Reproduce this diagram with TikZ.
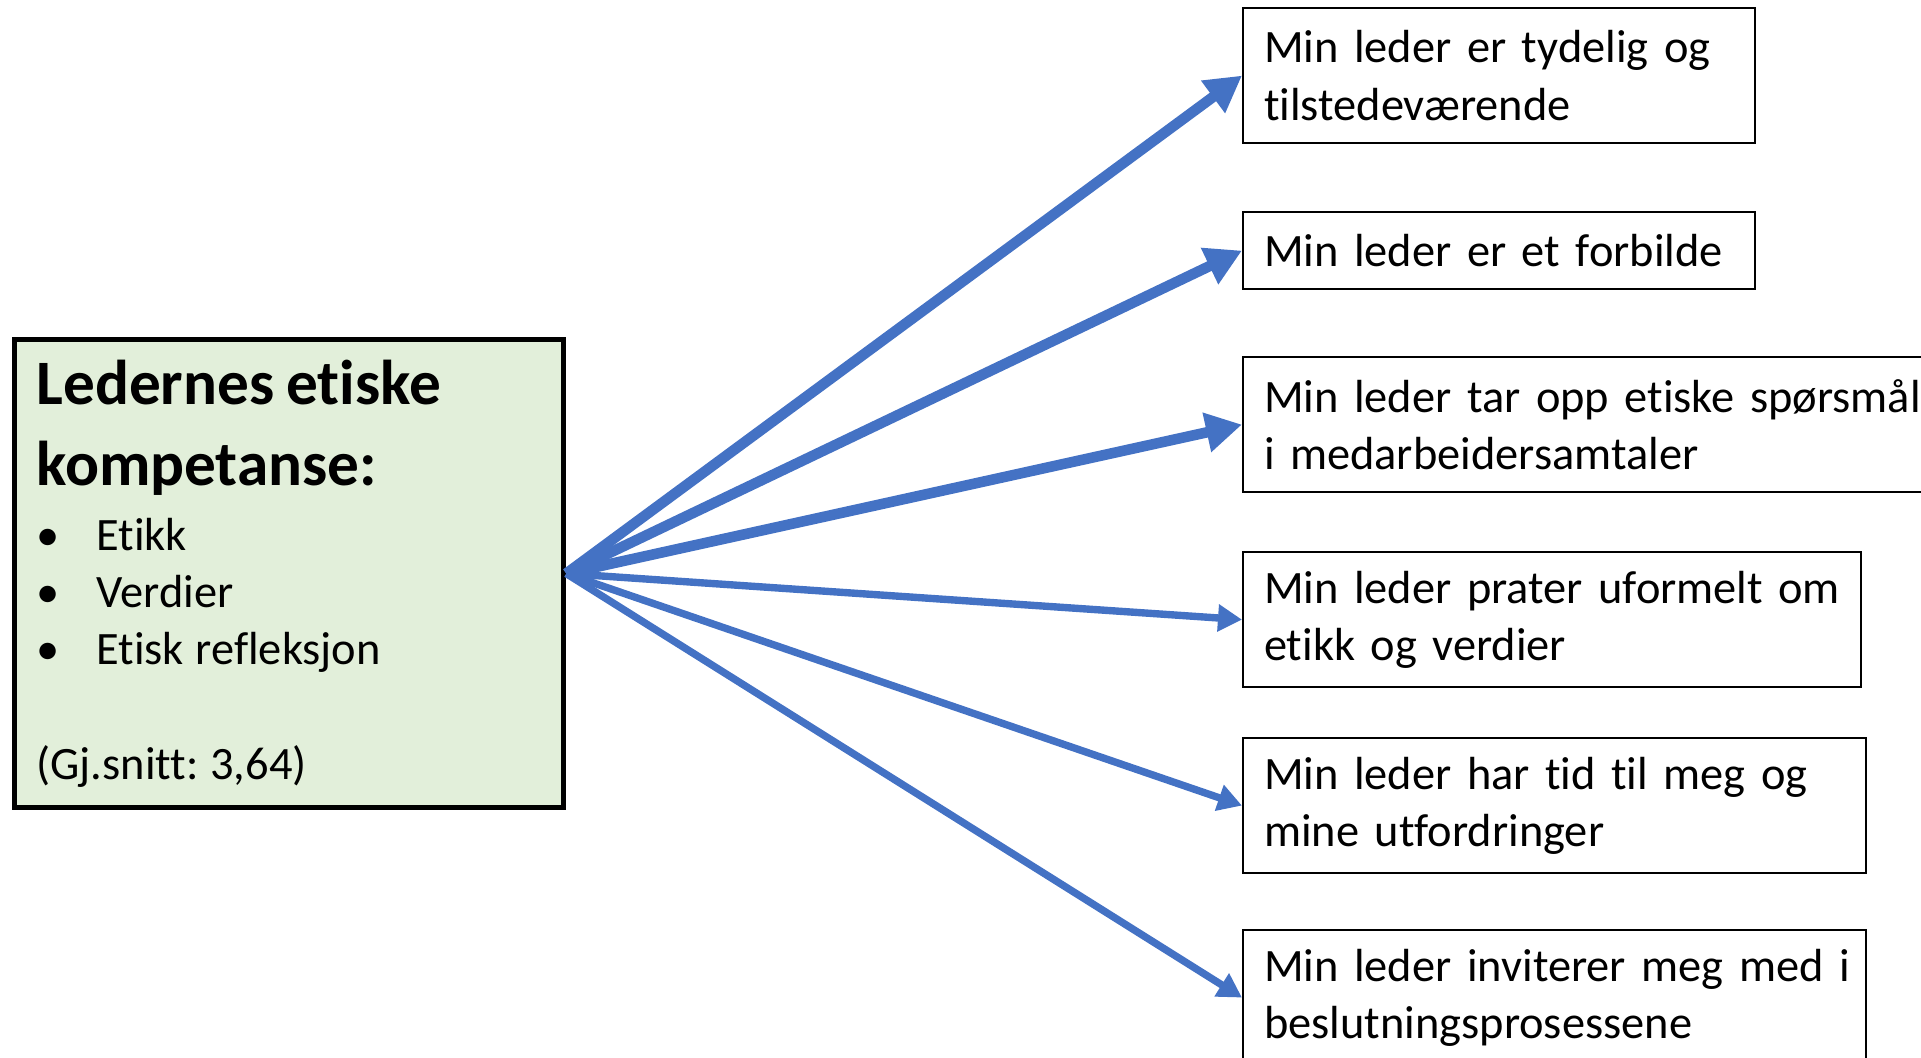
\documentclass[tikz,border=0pt]{standalone}
\usepackage{fontspec}
\setmainfont{Carlito}[Ligatures=NoCommon,WordSpace={0.9,0.5,0.3}]
\frenchspacing
\usetikzlibrary{arrows.meta}
\usetikzlibrary{positioning}
\definecolor{pilblaa}{HTML}{4472C4}
\definecolor{lysgroenn}{HTML}{E2EFDA}

\tikzset{
  maalboks/.style={draw=black,line width=0.6pt,anchor=north west,align=left,
    inner xsep=0.21cm,inner ysep=0pt,font=\fontsize{13.2}{16.3}\selectfont},
  tykkpil/.style={draw=pilblaa,line width=3pt,-{Triangle[length=0.36cm,width=0.38cm]}},
  tynnpil/.style={draw=pilblaa,line width=2.1pt,-{Triangle[length=0.24cm,width=0.26cm]}}
}

\begin{document}
\begin{tikzpicture}[x=0.01cm,y=-0.01cm]
\useasboundingbox (0,0) rectangle (1921,1058);

\node[draw=black,line width=1.4pt,fill=lysgroenn,anchor=north west,align=left,
  minimum width=5.49cm,minimum height=4.68cm,inner xsep=0.22cm,text width=5.05cm] (ledere) at (12,337) {%
{\fontsize{18}{23.3}\selectfont\bfseries Ledernes etiske\\kompetanse:\par}
{\fontsize{13.2}{16.3}\selectfont\vspace{2pt}%
\makebox[0.6cm][l]{\textbullet}Etikk\\
\makebox[0.6cm][l]{\textbullet}Verdier\\
\makebox[0.6cm][l]{\textbullet}Etisk refleksjon\\[16.3pt]
(Gj.snitt: 3,64)\par}};

\node[maalboks,minimum height=1.35cm,text width=4.70cm] (tydelig) at (1242,7) {\mbox{Min leder er tydelig og}\\tilstedeværende};
\node[maalboks,minimum height=0.77cm,text width=4.70cm] (forbilde) at (1242,211) {\mbox{Min leder er et forbilde}};
\node[maalboks,minimum height=1.35cm,text width=6.78cm] (spoersmaal) at (1242,356) {\mbox{Min leder tar opp etiske spørsmål}\\i medarbeidersamtaler};
\node[maalboks,minimum height=1.35cm,text width=5.76cm] (uformelt) at (1242,551) {\mbox{Min leder prater uformelt om}\\etikk og verdier};
\node[maalboks,minimum height=1.35cm,text width=5.81cm] (tid) at (1242,737) {\mbox{Min leder har tid til meg og}\\mine utfordringer};
\node[maalboks,minimum height=1.35cm,text width=5.81cm] (inviterer) at (1242,929) {\mbox{Min leder inviterer meg med i}\\beslutningsprosessene};

% piler fra ledere
\draw[tykkpil] (ledere.east) -- (tydelig.west);
\draw[tykkpil] (ledere.east) -- (forbilde.west);
\draw[tykkpil] (ledere.east) -- (spoersmaal.west);
\draw[tynnpil] (ledere.east) -- (uformelt.west);
\draw[tynnpil] (ledere.east) -- (tid.west);
\draw[tynnpil] (ledere.east) -- (inviterer.west);

\end{tikzpicture}
\end{document}
